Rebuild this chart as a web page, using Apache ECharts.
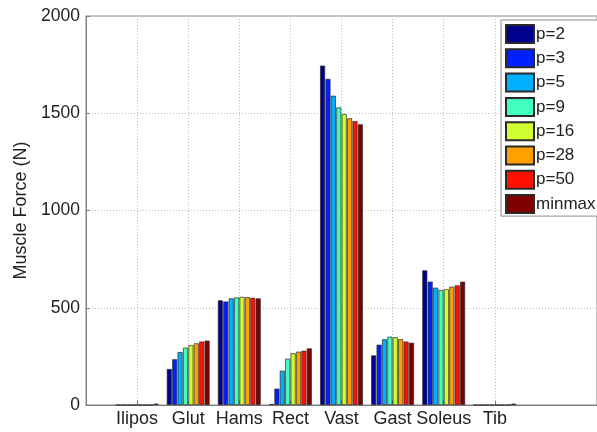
<!DOCTYPE html>
<html>
<head>
<meta charset="utf-8">
<script src="https://cdn.jsdelivr.net/npm/echarts@6/dist/echarts.min.js"></script>
<style>
  html, body { margin: 0; padding: 0; background: #fff; }
  #chart { width: 597px; height: 432px; }
</style>
</head>
<body>
<div id="chart"></div>
<script>
// Muscle groups along the x axis
const muscles = ['Ilipos', 'Glut', 'Hams', 'Rect', 'Vast', 'Gast', 'Soleus', 'Tib'];

// Muscle force (N) for each exponent p and the min/max criterion
const p2     = [0, 185, 538, 5,  1745, 255, 692, 0];
const p3     = [0, 235, 532, 84, 1676, 310, 634, 0];
const p5     = [0, 272, 548, 176, 1590, 338, 603, 0];
const p9     = [0, 295, 553, 238, 1530, 351, 591, 0];
const p16    = [0, 308, 556, 266, 1496, 348, 595, 0];
const p28    = [0, 317, 554, 274, 1474, 338, 608, 0];
const p50    = [0, 326, 551, 279, 1460, 326, 615, 0];
const minmax = [7, 331, 548, 291, 1443, 320, 634, 7];

const seriesNames = ['p=2', 'p=3', 'p=5', 'p=9', 'p=16', 'p=28', 'p=50', 'minmax'];
const seriesValues = [p2, p3, p5, p9, p16, p28, p50, minmax];
// jet colormap samples
const seriesColors = ['#00008F', '#0020FF', '#00AFFF', '#40FFBF', '#CFFF30', '#FFA000', '#FF1000', '#800000'];

// y ticks
const yMin = 0, yMax = 2000, yStep = 500;

// axis runs from slot 0 to slot 10; muscles sit on slots 1..8
const slots = ['', ...muscles, '', ''];
const isMuscle = (i) => i >= 1 && i <= muscles.length;

const font = "'Liberation Sans', Arial, Helvetica, sans-serif";

const chart = echarts.init(document.getElementById('chart'), null, { renderer: 'canvas' });

chart.setOption({
  animation: false,
  backgroundColor: '#ffffff',
  textStyle: { fontFamily: font },
  grid: {
    left: 86, top: 16, bottom: 27, width: 520,
    show: true, borderColor: '#8a8a8a', borderWidth: 1, backgroundColor: 'transparent'
  },
  legend: {
    orient: 'vertical',
    left: 501, top: 20,
    padding: [4, 20, 2, 4],
    itemWidth: 28, itemHeight: 18, itemGap: 4.3,
    backgroundColor: '#ffffff',
    borderColor: '#8a8a8a', borderWidth: 1,
    textStyle: { fontFamily: font, fontSize: 17, lineHeight: 18, color: '#222', padding: [0, 0, 0, -3] },
    data: seriesNames.map(n => ({ name: n, icon: 'rect' }))
  },
  xAxis: {
    type: 'category',
    data: slots,
    boundaryGap: false,
    axisLine: { lineStyle: { color: '#7a7a7a', width: 1 } },
    axisTick: { show: true, inside: true, length: 4, interval: (i) => isMuscle(i), lineStyle: { color: '#7a7a7a' } },
    axisLabel: { interval: (i) => isMuscle(i), fontSize: 18, color: '#222', margin: 5, fontFamily: font },
    splitLine: { show: true, interval: (i) => isMuscle(i), lineStyle: { color: '#bdbdbd', type: [1, 2], width: 1 } }
  },
  yAxis: {
    type: 'value',
    min: yMin, max: yMax, interval: yStep,
    name: 'Muscle Force (N)',
    nameLocation: 'middle',
    nameGap: 52,
    nameTextStyle: { fontSize: 18, color: '#222', fontFamily: font },
    axisLine: { show: true, lineStyle: { color: '#7a7a7a', width: 1 } },
    axisTick: { show: true, inside: true, length: 4, lineStyle: { color: '#7a7a7a' } },
    axisLabel: { fontSize: 17.5, color: '#222', margin: 6, fontFamily: font, formatter: (v) => String(v) },
    splitLine: { show: true, lineStyle: { color: '#bdbdbd', type: [1, 2], width: 1 } }
  },
  series: seriesNames.map((name, k) => ({
    name: name,
    type: 'bar',
    data: [null, ...seriesValues[k], null, null],
    barWidth: 5,
    barGap: '8%',
    itemStyle: { color: seriesColors[k], borderColor: '#2a2a2a', borderWidth: 0.7 },
    emphasis: { disabled: true }
  }))
});
</script>
</body>
</html>
